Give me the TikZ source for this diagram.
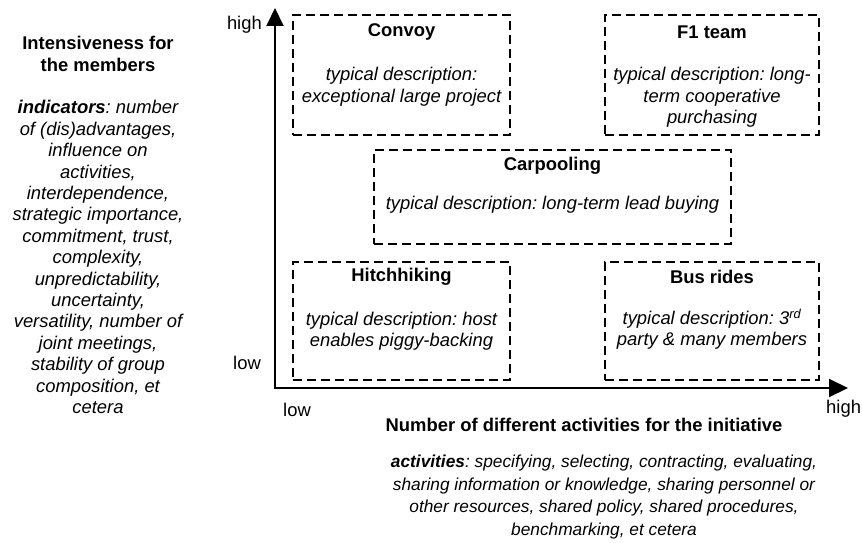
\documentclass[tikz,border=0pt]{standalone}
\usepackage{fontspec}
\setmainfont{Liberation Sans}
\usetikzlibrary{arrows.meta}
\newcommand\fnt{\fontsize{18.4pt}{21.4pt}\selectfont}
\frenchspacing
\begin{document}
\begin{tikzpicture}[x=1pt,y=-1pt,
  txt/.style={inner sep=0pt, align=center, font=\fnt},
  ttl/.style={txt, font=\fnt\bfseries},
  dsc/.style={txt, font=\fnt\itshape},
  qbox/.style={draw, line width=2.3pt, dash pattern=on 9pt off 5pt, inner sep=0pt},
  axis/.style={line width=2pt, line join=miter, {Triangle[length=18pt,width=17pt]}-{Triangle[length=19pt,width=18pt]}}
]
\useasboundingbox (0,0) rectangle (862,543);

% quadrant boxes
\node[qbox, minimum width=217pt, minimum height=120pt] (convoy) at (401.5,75) {};
\node[qbox, minimum width=214pt, minimum height=120pt] (f1) at (712,75) {};
\node[qbox, minimum width=357pt, minimum height=94pt] (carpool) at (552.5,197) {};
\node[qbox, minimum width=217pt, minimum height=118pt] (hitch) at (401.5,321) {};
\node[qbox, minimum width=214pt, minimum height=118pt] (bus) at (712,321) {};

% box titles
\node[ttl] (convoyT) at (401.5,32) {Convoy};
\node[ttl] (f1T) at (712,32) {F1 team};
\node[ttl] (carpoolT) at (552.5,166) {Carpooling};
\node[ttl] (hitchT) at (401.5,277) {Hitchhiking};
\node[ttl] (busT) at (712,277) {Bus rides};

% box descriptions
\node[dsc] (convoyD) at (401.5,86.7) {typical description:\\exceptional large project};
\node[dsc] (f1D) at (712,97.4) {typical description: long-\\term cooperative\\purchasing};
\node[dsc] (carpoolD) at (552.5,205) {typical description: long-term lead buying};
\node[dsc] (hitchD) at (401.5,331) {typical description: host\\enables piggy-backing};
\node[dsc] (busD) at (712,330.5) {typical description: 3\smash{\textsuperscript{rd}}\\party \& many members};

% axes
\coordinate (O) at (275,388);
\coordinate (ytip) at (275,8);
\coordinate (xtip) at (848,388);
\draw[axis] (ytip) -- (O) -- (xtip);

% axis end labels
\node[txt, anchor=east] (yhigh) at (262,25) {high};
\node[txt, anchor=east] (ylow) at (261,363) {low};
\node[txt, anchor=west] (xlow) at (283,410) {low};
\node[txt, anchor=west] (xhigh) at (826,409) {high};

% y-axis description
\node[txt, font=\fnt\itshape] (yttl) at (98,225) {\textup{\textbf{Intensiveness for}}\\\textup{\textbf{the members}}\\[21.4pt]
\textbf{indicators}: number\\of (dis)advantages,\\influence on\\activities,\\interdependence,\\strategic importance,\\commitment, trust,\\complexity,\\unpredictability,\\uncertainty,\\versatility, number of\\joint meetings,\\stability of group\\composition, et\\cetera};

% x-axis description
\node[ttl] (xttl) at (584,425) {Number of different activities for the initiative};
\node[txt, font=\fontsize{17.3pt}{22.4pt}\selectfont\itshape] (xdsc) at (604,497) {\textbf{activities}: specifying, selecting, contracting, evaluating,\\sharing information or knowledge, sharing personnel or\\other resources, shared policy, shared procedures,\\benchmarking, et cetera};
\end{tikzpicture}
\end{document}
